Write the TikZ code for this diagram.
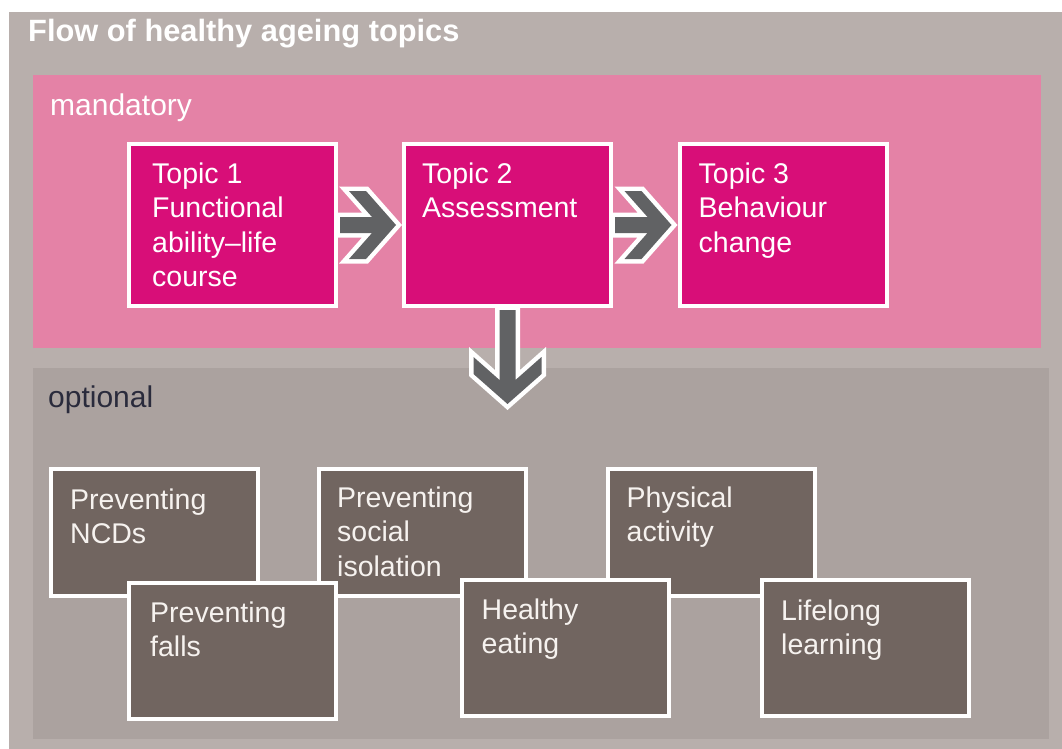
\documentclass[tikz,border=0pt]{standalone}
\usepackage{fontspec}
\setmainfont{Liberation Sans}
\usetikzlibrary{calc}

\definecolor{framegrey}{HTML}{B8AFAC}
\definecolor{mandpink}{HTML}{E482A6}
\definecolor{topicpink}{HTML}{D80E78}
\definecolor{optgrey}{HTML}{ABA29F}
\definecolor{optbrown}{HTML}{716560}
\definecolor{arrowgrey}{HTML}{616264}
\definecolor{labeldark}{HTML}{2A2B3C}
\definecolor{boxtextlight}{HTML}{F6F2EF}

% Lines of a box text; the baseline of the first line is the reference point
\newcommand\boxlines[1]{\begin{tabular}[t]{@{}l@{}}#1\end{tabular}}

% Outline of a thick right-pointing chevron arrow between two nodes
\newcommand\rightchevron[2]{let \p1=(#1.east), \p2=(#2.west) in
  (\x1+2pt,\y1+8pt) -- (\x2-30pt,\y1+8pt) -- (\x2-53pt,\y1+34pt) -- (\x2-36pt,\y1+34pt)
  -- (\x2-6pt,\y1) -- (\x2-36pt,\y1-34pt) -- (\x2-53pt,\y1-34pt) -- (\x2-30pt,\y1-8pt)
  -- (\x1+2pt,\y1-8pt) -- cycle}
% Same arrow pointing down, from a node to a tip coordinate
\newcommand\downchevron[2]{let \p1=(#1.south), \p2=(#2) in
  (\x1+8pt,\y1-2pt) -- (\x1+8pt,\y2+24pt) -- (\x1+34pt,\y2+47pt) -- (\x1+34pt,\y2+30pt)
  -- (\x1,\y2) -- (\x1-34pt,\y2+30pt) -- (\x1-34pt,\y2+47pt) -- (\x1-8pt,\y2+24pt)
  -- (\x1-8pt,\y1-2pt) -- cycle}

\begin{document}
\begin{tikzpicture}[x=1pt,y=-1pt,
  panel/.style={inner sep=0pt, outer sep=0pt, anchor=north west},
  topicbox/.style={draw=white, line width=4pt, fill=topicpink, minimum width=207pt,
    minimum height=162pt, inner sep=0pt},
  optbox/.style={draw=white, line width=4pt, fill=optbrown, minimum width=207pt, inner sep=0pt},
  toprow/.style={optbox, minimum height=127pt},
  bottomrow/.style={optbox, minimum height=136pt},
  boxtext/.style={anchor=base west, inner sep=0pt,
    font=\fontsize{28.5}{34.5}\selectfont},
  paneltitle/.style={anchor=base west, inner sep=0pt, font=\fontsize{30}{36}\selectfont},
  arrowedge/.style={draw=white, line width=9pt, line join=miter},
  arrowbody/.style={fill=arrowgrey}]

\useasboundingbox (0,0) rectangle (1062,749);
\fill[white] (0,0) rectangle (1062,749);

% frame and the two panels
\node[panel, fill=framegrey, minimum width=1053pt, minimum height=737pt] (frame) at (9,12) {};
\node[panel, fill=mandpink, minimum width=1008pt, minimum height=273pt] (mand) at (33,75) {};
\node[panel, fill=optgrey, minimum width=1016pt, minimum height=371pt] (opt) at (33,368) {};

\node[anchor=base west, inner sep=0pt, text=white,
  font=\bfseries\fontsize{30.8}{36}\selectfont] (title) at (28,42) {Flow of healthy ageing topics};
\node[paneltitle, text=white] (mandlabel) at (50,116) {mandatory};
\node[paneltitle, text=labeldark] (optlabel) at (48,407) {optional};

% mandatory topics
\node[topicbox] (t1) at (232.5,225) {};
\node[topicbox] (t2) at (507.5,225) {};
\node[topicbox] (t3) at (783,225) {};
\node[boxtext, text=white] (t1text) at ([shift={(25,41)}]t1.north west)
  {\boxlines{Topic 1\\Functional\\ability–life\\course}};
\node[boxtext, text=white] (t2text) at ([shift={(20,41)}]t2.north west)
  {\boxlines{Topic 2\\Assessment}};
\node[boxtext, text=white] (t3text) at ([shift={(21,41)}]t3.north west)
  {\boxlines{Topic 3\\Behaviour\\change}};

% flow arrows
\coordinate (droptip) at (507.5,404);
\draw[arrowedge] \rightchevron{t1}{t2};
\fill[arrowbody] \rightchevron{t1}{t2};
\draw[arrowedge] \rightchevron{t2}{t3};
\fill[arrowbody] \rightchevron{t2}{t3};
\draw[arrowedge] \downchevron{t2}{droptip};
\fill[arrowbody] \downchevron{t2}{droptip};

% optional topics, upper row
\node[toprow] (ncd) at (154.5,532.5) {};
\node[toprow] (social) at (422.5,532.5) {};
\node[toprow] (physical) at (711,532.5) {};
\node[boxtext, text=boxtextlight] (ncdtext) at ([shift={(21,42)}]ncd.north west)
  {\boxlines{Preventing\\NCDs}};
\node[boxtext, text=boxtextlight] (socialtext) at ([shift={(20,40)}]social.north west)
  {\boxlines{Preventing\\social\\isolation}};
\node[boxtext, text=boxtextlight] (physicaltext) at ([shift={(21,40)}]physical.north west)
  {\boxlines{Physical\\activity}};

% optional topics, lower row (in front)
\node[bottomrow] (falls) at (232.5,651) {};
\node[boxtext, text=boxtextlight] (fallstext) at ([shift={(23,41)}]falls.north west)
  {\boxlines{Preventing\\falls}};
\node[bottomrow] (eating) at (565,648) {};
\node[boxtext, text=boxtextlight] (eatingtext) at ([shift={(22,41)}]eating.north west)
  {\boxlines{Healthy\\eating}};
\node[bottomrow] (learning) at (865.5,648) {};
\node[boxtext, text=boxtextlight] (learningtext) at ([shift={(21,42)}]learning.north west)
  {\boxlines{Lifelong\\learning}};

\end{tikzpicture}
\end{document}
